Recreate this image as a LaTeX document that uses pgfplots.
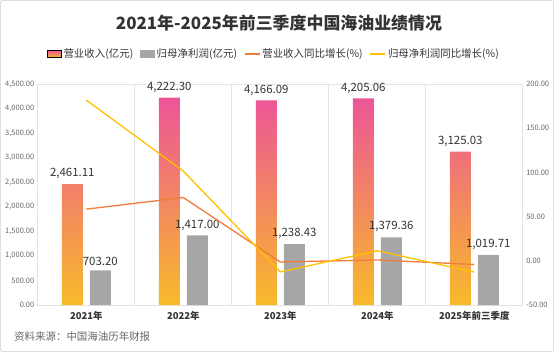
\documentclass[border=0pt]{standalone}
\usepackage{fontspec}
\setmainfont{Noto Sans CJK SC}
\usepackage{pgfplots}
\pgfplotsset{compat=1.18}
\definecolor{pinktop}{HTML}{EC5598}
\definecolor{orbot}{HTML}{F8BA2A}
\definecolor{barGray}{HTML}{A6A6A6}
\definecolor{lineOrange}{HTML}{EE7D3A}
\definecolor{lineYellow}{HTML}{FFC000}
\definecolor{txt}{HTML}{333333}
\definecolor{tickc}{HTML}{666666}
\definecolor{gridc}{HTML}{E3E3E3}
\pgfplotsset{/pgf/number format/assume math mode=true}
\begin{document}
\begin{tikzpicture}
\path[use as bounding box] (0bp,0bp) rectangle (554bp,-352bp);
\draw[gray!25, line width=1bp, rounded corners=2bp] (0.5bp,-0.5bp) rectangle (553.5bp,-351.5bp);
\node[font=\fontsize{17}{20}\selectfont\bfseries, text=txt] at (279bp,-23bp) {2021年-2025年前三季度中国海油业绩情况};
\node[font=\fontsize{10.5}{12}\selectfont, text=tickc, anchor=west, inner sep=0pt] at (14bp,-337bp) {资料来源：中国海油历年财报};
\begin{axis}[
  at={(37.8bp,-305bp)}, anchor=south west, scale only axis, width=485bp, height=221bp,
  xmin=-0.5, xmax=4.5, ymin=0, ymax=4500,
  xtick={0,...,4}, xticklabels={2021年,2022年,2023年,2024年,2025年前三季度},
  minor xtick={0.5,1.5,2.5,3.5}, xminorgrids, minor grid style={gridc, line width=0.8bp},
  major tick length=0pt, minor tick length=0pt,
  axis line style={gridc, line width=0.8bp},
  ytick={0,500,...,4500}, scaled y ticks=false,
  yticklabel style={/pgf/number format/fixed, /pgf/number format/fixed zerofill, /pgf/number format/precision=2, /pgf/number format/1000 sep={,}, font=\fontsize{7.5}{9}\selectfont, text=tickc},
  xticklabel style={font=\fontsize{9.5}{11}\selectfont\bfseries, text=txt, yshift=-3bp},
  nodes near coords style={font=\fontsize{11.5}{13}\selectfont, text=txt, inner ysep=5bp, /pgf/number format/fixed, /pgf/number format/fixed zerofill, /pgf/number format/precision=2, /pgf/number format/1000 sep={,}},
]
\addplot[ybar, bar width=21bp, bar shift=-14bp, draw=none, top color=pinktop, bottom color=orbot, nodes near coords,
  every node near coord/.append style={xshift=-14bp}]
  coordinates {(0,2461.11) (1,4222.30) (2,4166.09) (3,4205.06) (4,3125.03)};
\addplot[ybar, bar width=21bp, bar shift=14bp, draw=none, fill=barGray, nodes near coords,
  every node near coord/.append style={xshift=14bp}]
  coordinates {(0,703.20) (1,1417.00) (2,1238.43) (3,1379.36) (4,1019.71)};
\end{axis}
\begin{axis}[
  at={(37.8bp,-305bp)}, anchor=south west, scale only axis, width=485bp, height=221bp,
  xmin=-0.5, xmax=4.5, ymin=-50, ymax=200,
  axis y line*=right, axis x line=none,
  axis line style={gridc, line width=0.8bp},
  major tick length=0pt,
  ytick={-50,0,...,200},
  yticklabel style={/pgf/number format/fixed, /pgf/number format/fixed zerofill, /pgf/number format/precision=2, font=\fontsize{7.5}{9}\selectfont, text=tickc},
  legend style={at={(0.487,1.136)}, anchor=center, draw=none, fill=none, legend columns=4,
    font=\fontsize{10.5}{12}\selectfont\color{txt},
    /tikz/every even column/.append style={column sep=5bp}},
]
\addlegendimage{legend image code/.code={\shade[top color=pinktop,bottom color=orbot] (0bp,-3.5bp) rectangle (14bp,3.5bp);}}
\addlegendentry{营业收入(亿元)}
\addlegendimage{legend image code/.code={\fill[barGray] (0bp,-3.5bp) rectangle (14bp,3.5bp);}}
\addlegendentry{归母净利润(亿元)}
\addplot[lineOrange, line width=1.3bp, legend image code/.code={\draw[lineOrange, line width=1.3bp] (0bp,0bp) -- (15bp,0bp);}]
  coordinates {(0,58.44) (1,71.56) (2,-1.33) (3,0.94) (4,-4.15)};
\addlegendentry{营业收入同比增长(\%)}
\addplot[lineYellow, line width=1.3bp, legend image code/.code={\draw[lineYellow, line width=1.3bp] (0bp,0bp) -- (15bp,0bp);}]
  coordinates {(0,181.76) (1,101.51) (2,-12.60) (3,11.38) (4,-12.82)};
\addlegendentry{归母净利润同比增长(\%)}
\end{axis}
\end{tikzpicture}
\end{document}
